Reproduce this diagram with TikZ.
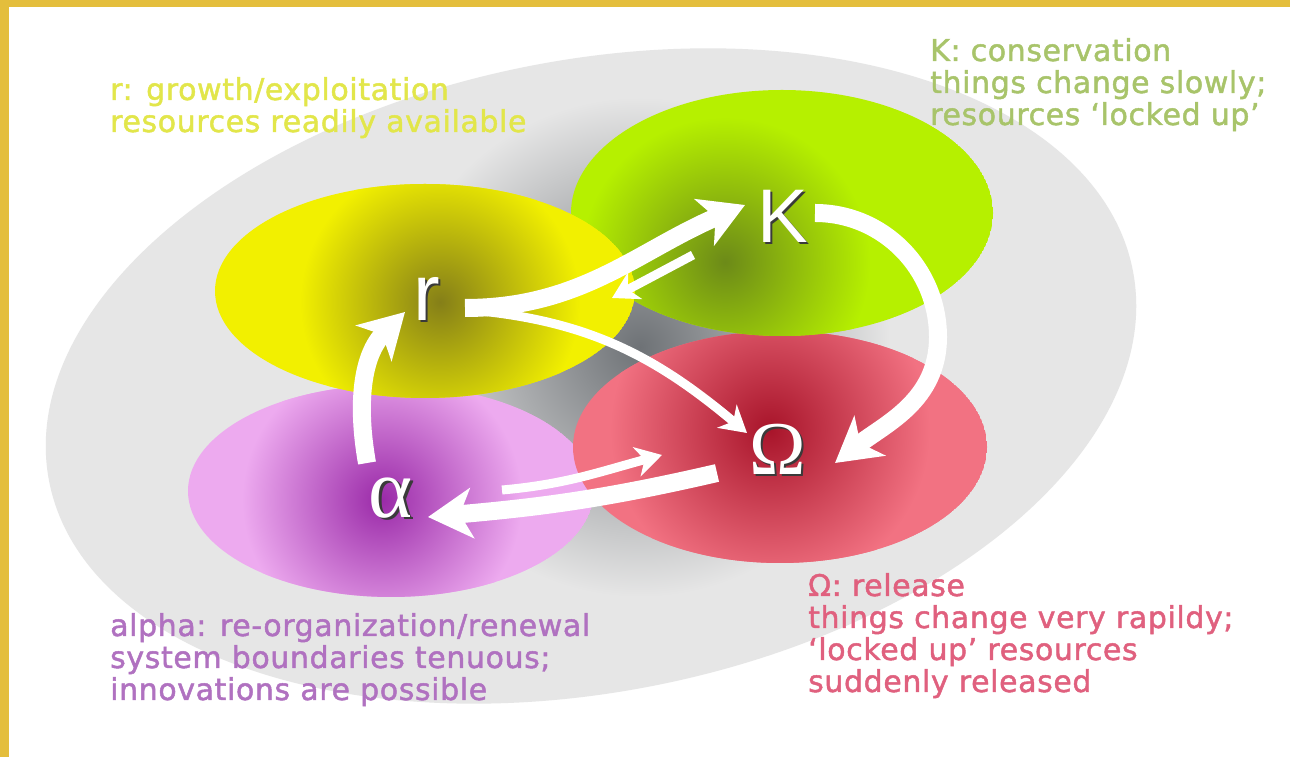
\documentclass[tikz,border=0pt]{standalone}
\usepackage{fontspec}
\usetikzlibrary{arrows.meta,calc}
\newfontfamily\capfont{DejaVu Sans}[LetterSpace=2, FakeBold=1.5]
\newfontfamily\letterfont{Liberation Sans}
\newfontfamily\greekfont{Liberation Serif}
\definecolor{frame}{HTML}{E4BE3C}
\definecolor{basin}{HTML}{E6E6E6}
\definecolor{basindark}{HTML}{6E7276}
\definecolor{ryellow}{HTML}{F2F000}
\definecolor{ryellowdark}{HTML}{857F18}
\definecolor{kgreen}{HTML}{B6F000}
\definecolor{kgreendark}{HTML}{6C8A18}
\definecolor{ored}{HTML}{F27282}
\definecolor{oreddark}{HTML}{A8142A}
\definecolor{apurple}{HTML}{EDAAEF}
\definecolor{apurpledark}{HTML}{9A2AA8}
\definecolor{rtext}{HTML}{E2E64A}
\definecolor{ktext}{HTML}{A8C46A}
\definecolor{otext}{HTML}{E0607E}
\definecolor{atext}{HTML}{B071C0}
\definecolor{letterline}{HTML}{3A3A3A}
\newcommand\outlined[1]{\makebox[0pt][l]{\kern2pt\raisebox{-2pt}{\color{letterline}#1}}#1}
\tikzset{
  phase/.style={text=white, inner sep=0pt},
  caption/.style={anchor=base west, align=left, inner sep=0pt,
    font=\capfont\fontsize{30}{32}\selectfont},
  flow/.style={draw=white, line width=18pt,
    -{Stealth[length=44pt, width=50pt, inset=12pt]}},
  flowthin/.style={draw=white, line width=9pt,
    -{Stealth[length=26pt, width=30pt, inset=8pt]}},
}
\begin{document}
\begin{tikzpicture}[x=1pt, y=1pt]
    \useasboundingbox (0,0) rectangle (1290,757);
    \fill[white] (0,0) rectangle (1290,757);
    \fill[frame] (0,750) rectangle (1290,757);
    \fill[frame] (0,0) rectangle (9,757);
    % basin
    \begin{scope}
        \clip[rotate around={11:(591,381)}] (591,381) ellipse [x radius=552, y radius=316];
        \fill[basin] (0,0) rectangle (1290,757);
        \shade[inner color=basindark, outer color=basin] (640,410) circle [radius=250];
    \end{scope}
    % phases
    \begin{scope}
        \clip (391,266) ellipse [x radius=203, y radius=106];
        \fill[apurple] (391,266) ellipse [x radius=203, y radius=106];
        \shade[inner color=apurpledark, outer color=apurple] (382,257) circle [radius=140];
    \end{scope}
    \begin{scope}
        \clip (780,310) ellipse [x radius=207, y radius=116];
        \fill[ored] (780,310) ellipse [x radius=207, y radius=116];
        \shade[inner color=oreddark, outer color=ored] (770,327) circle [radius=160];
    \end{scope}
    \begin{scope}
        \clip (782,544) ellipse [x radius=211, y radius=123];
        \fill[kgreen] (782,544) ellipse [x radius=211, y radius=123];
        \shade[inner color=kgreendark, outer color=kgreen] (725,495) circle [radius=145];
    \end{scope}
    \begin{scope}
        \clip (425,466) ellipse [x radius=210, y radius=107];
        \fill[ryellow] (425,466) ellipse [x radius=210, y radius=107];
        \shade[inner color=ryellowdark, outer color=ryellow] (440,455) circle [radius=140];
    \end{scope}
    % letters
    \node[phase, font=\letterfont\fontsize{80}{80}\selectfont] (r) at (427,457) {\outlined{r}};
    \node[phase, font=\letterfont\fontsize{76}{76}\selectfont] (K) at (783,540) {\outlined{K}};
    \node[phase, font=\greekfont\fontsize{76}{76}\selectfont] (Om) at (778,307) {\outlined{Ω}};
    \node[phase, font=\greekfont\fontsize{84}{84}\selectfont] (al) at (391,258) {\outlined{α}};
    % flows
    \draw[flow] ($(r)+(38,-8)$) to[out=0, in=203] ($(K)+(-38,12)$);
    \draw[flowthin] ($(K)+(-90,-38)$) -- ($(r)+(185,2)$);
    \draw[flowthin] ($(r)+(43,-10)$) to[out=-5, in=140] ($(Om)+(-31,17)$);
    \draw[flow] ($(K)+(32,4)$) to[out=0, in=90] (938,420) to[out=-90, in=38] ($(Om)+(57,-13)$);
    \draw[flow] ($(Om)+(-61,-23)$) to[out=193, in=5] ($(al)+(37,-18)$);
    \draw[flowthin] ($(al)+(111,9)$) to[out=5, in=195] ($(Om)+(-116,-5)$);
    \draw[flow] ($(al)+(-24,36)$) to[out=100, in=225] ($(r)+(-22,-12)$);
    % captions
    \node[caption, text=rtext] (rcap) at (110,625) {r: growth/exploitation\\resources readily available};
    \node[caption, text=ktext] (kcap) at (930,632) {K: conservation\\things change slowly;\\resources ‘locked up’};
    \node[caption, text=atext] (acap) at (110,57) {alpha: re-organization/renewal\\system boundaries tenuous;\\innovations are possible};
    \node[caption, text=otext] (ocap) at (808,65) {Ω: release\\things change very rapildy;\\‘locked up’ resources\\suddenly released};
\end{tikzpicture}
\end{document}
